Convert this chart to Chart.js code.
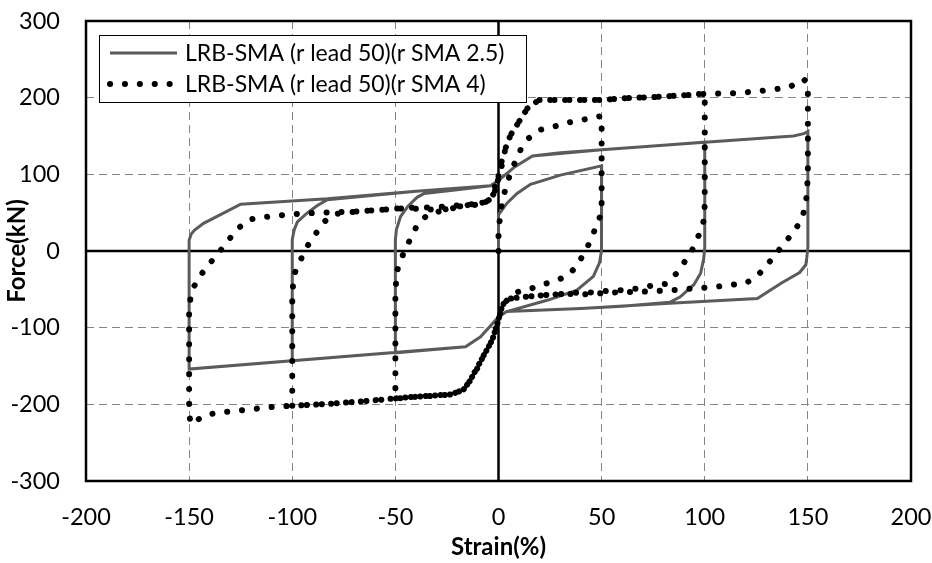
<!DOCTYPE html>
<html>
<head>
<meta charset="utf-8">
<script src="https://cdn.jsdelivr.net/npm/chart.js@4.4.1/dist/chart.umd.min.js"></script>
<style>
  html, body { margin: 0; padding: 0; background: #fff; }
</style>
</head>
<body>
<canvas id="myChart" width="932" height="563"></canvas>
<script>
const seriesNames = ['LRB-SMA (r lead 50)(r SMA 2.5)', 'LRB-SMA (r lead 50)(r SMA 4)'];
const xTicks = [-200, -150, -100, -50, 0, 50, 100, 150, 200];
const yTicks = [-300, -200, -100, 0, 100, 200, 300];

// r SMA 2.5 (solid grey)
const sma25Strain = [
  0, 0, 4, 9, 15.5, 30, 50,
  50, 50, 49.8, 49, 46, 38, 24, 4, 0, -8.7, -16, -50,
  -50, -50, -49.5, -47.5, -44, -39.5, -36, -20, -4, 0, 8, 16.5, 30, 50, 75, 100,
  100, 100, 99.5, 98, 94.7, 88, 83, 60, 40, 4, 0, -8.7, -16, -100,
  -100, -100, -99, -97.5, -93, -88, -83, -40, -4, 0, 8, 16.5, 50, 100, 143, 148, 150,
  150, 150, 149.5, 149, 146, 137, 125.5, 83, 40, 4, 0, -8.7, -16, -150,
  -150, -150, -149, -147.5, -143, -125, -83, -40, -4
];
const sma25Force = [
  0, 47, 62, 75, 87, 99, 111,
  60, 15, 0, -15, -33, -51, -64, -79, -86, -112, -125, -133,
  -60, 15, 28, 45, 58, 70, 75, 80, 85, 92, 110, 124, 128, 132, 137, 142,
  60, 5, -10, -29, -44, -60, -67, -72, -75, -79, -86, -112, -125, -143,
  -60, 15, 28, 38, 49, 59, 67, 78, 85, 92, 110, 124, 132, 142, 150, 153, 156,
  80, 5, -8, -18, -28, -42, -62, -68, -75, -79, -86, -112, -125, -154,
  -60, 14, 22, 27, 36, 61, 68, 78, 85
];

// r SMA 4 (black round dots)
const sma4Strain = [
  0, 0, 0.5, 1.5, 3, 5, 7.4, 10.7, 14.6, 20, 26.7, 33, 40.6, 47.5, 50,
  50, 47.3, 44.6, 41, 38, 33, 26.5, 19.4, 15, 8.2, 3.9, 1.3, 0, -1.5, -3, -5.8, -8.7, -11, -14, -17, -23, -31.5, -39.4, -46.7, -50,
  -50, -49, -48, -45, -42, -39, -34, -26.7, -20, -12.8, -8, -5, -3, -1.5, -0.5, 1.3, 3.4, 5.8, 10, 14, 19.6, 35, 50, 63, 77, 91.5, 100,
  100, 99.3, 97, 94, 90, 86, 81, 73.7, 67, 60, 52.7, 45.4, 38, 31, 20, 12, 6, 2.6, 1, 0, -3, -8.7, -14, -17, -23, -40, -53, -66, -80, -94, -100,
  -100, -99.5, -99, -96, -93, -89, -85, -80, -72.6, -58, -44, -30, -17, -8, -4.5, -3, -1.5, -0.5, 1, 3.4, 5.8, 10, 14, 19.6, 50, 63, 77, 91.5, 100, 113, 120, 127, 134, 141, 146, 148, 150,
  150, 149.5, 149, 147.5, 144, 139.5, 135, 130.6, 126, 120, 113, 106, 99, 85, 70.5, 56.5, 42, 31, 20, 12, 6, 2.6, 1, 0, -3, -8.7, -14, -17, -23, -40, -53, -66, -80, -94, -100.5, -108, -115, -122, -129, -136.5, -143, -149,
  -150, -150, -149.3, -147.7, -144, -139.6, -135, -130.7, -126, -121, -114, -107.5, -100.5, -86.8, -72, -58.8, -44, -34.5, -26.5, -19.3, -12, -8, -4.7, -3, -1.5, -0.6
];
const sma4Force = [
  0, 19, 38, 60, 77, 95, 112, 132, 147, 158, 162, 167, 171, 175, 176,
  50, 32, 13, -5, -20, -33, -40, -45, -50, -54, -65, -77, -90, -103, -116, -129, -144, -157, -170, -181, -187, -189, -190, -192, -192,
  -50, -25, -15, 3, 20, 36, 48, 53, 57, 61, 63, 64, 71, 80, 90, 108, 134, 151, 169, 186, 197, 197, 197, 199.5, 201, 203.5, 205.5,
  60, 37, 20, 2, -15, -30, -43, -45.6, -49, -51, -52, -54, -54.5, -56, -58, -60, -62, -68, -78, -90, -116, -144, -170, -181, -187, -190, -193, -196, -199, -201, -202,
  -60, -40, -30, -12, 5, 21, 37, 48, 50.5, 53.5, 56.5, 57, 60, 62, 66, 71, 80, 90, 112, 134, 151, 169, 186, 197, 197, 199.5, 201, 203.5, 205, 205.6, 207, 208.7, 211, 213.5, 222, 224, 218,
  100, 75, 63.5, 45, 28, 13, -2, -17, -31, -42, -44, -46.5, -48, -51, -53, -54, -56.5, -56, -58, -60, -62, -68, -78, -90, -116, -144, -170, -181, -187, -190, -193, -196, -199, -201, -202, -203, -205, -207, -209, -211, -215, -226,
  -214, -79, -60, -46.5, -30, -15, 0, 15, 30, 41, 44, 46, 48, 50, 51, 53.5, 56, 54, 54, 58, 60, 61, 66.5, 75, 86, 97
];

const FONT = 'Lato, "Open Sans", sans-serif';
const ctx = document.getElementById('myChart');

function pairs(xs, ys) {
  return xs.map((x, i) => ({ x: x, y: ys[i] }));
}

// fixed axis boxes, no extra label overflow padding
function fixBox(size, horizontal) {
  return s => {
    if (horizontal) s.height = size; else s.width = size;
    s.paddingTop = 0; s.paddingBottom = 0; s.paddingLeft = 0; s.paddingRight = 0;
  };
}

// black zero axes, plot frame and boxed legend like the Excel original
const decor = {
  id: 'decor',
  beforeDatasetsDraw(chart) {
    const { ctx, chartArea: a, scales } = chart;
    const x0 = scales.x.getPixelForValue(0);
    const y0 = scales.y.getPixelForValue(0);
    ctx.save();
    ctx.strokeStyle = '#000';
    ctx.lineWidth = 2.5;
    ctx.beginPath();
    ctx.moveTo(x0, a.top); ctx.lineTo(x0, a.bottom);
    ctx.moveTo(a.left, y0); ctx.lineTo(a.right, y0);
    ctx.stroke();
    ctx.restore();
  },
  afterDatasetsDraw(chart) {
    const { ctx, chartArea: a } = chart;
    ctx.save();
    ctx.strokeStyle = '#000';
    ctx.lineWidth = 2.5;
    ctx.strokeRect(a.left, a.top, a.right - a.left, a.bottom - a.top);

    const lx = a.left + 13, ly = a.top + 14, lw = 427, lh = 67;
    ctx.fillStyle = '#fff';
    ctx.fillRect(lx, ly, lw, lh);
    ctx.lineWidth = 1;
    ctx.strokeRect(lx + 0.5, ly + 0.5, lw, lh);
    chart.data.datasets.forEach((ds, i) => {
      const yy = ly + 18 + i * 31;
      ctx.beginPath();
      ctx.strokeStyle = ds.borderColor;
      ctx.lineWidth = ds.borderWidth;
      ctx.setLineDash(ds.borderDash || []);
      ctx.lineCap = ds.borderCapStyle || 'butt';
      ctx.moveTo(lx + 11, yy);
      ctx.lineTo(lx + 78, yy);
      ctx.stroke();
      ctx.setLineDash([]);
      ctx.fillStyle = '#000';
      ctx.font = '23px ' + FONT;
      ctx.textBaseline = 'middle';
      ctx.textAlign = 'left';
      ctx.fillText(ds.label, lx + 86, yy + 1);
    });
    ctx.restore();
  }
};

const gridColor = c => (c.tick && c.tick.value === 0) ? 'rgba(0,0,0,0)' : '#858585';

new Chart(ctx, {
  type: 'scatter',
  data: {
    datasets: [
      {
        label: seriesNames[0],
        data: pairs(sma25Strain, sma25Force),
        showLine: true,
        borderColor: '#5b5b5b',
        borderWidth: 3,
        pointRadius: 0,
        order: 1
      },
      {
        label: seriesNames[1],
        data: pairs(sma4Strain, sma4Force),
        showLine: true,
        borderColor: '#000',
        borderWidth: 6,
        borderDash: [0.1, 14.8],
        borderCapStyle: 'round',
        pointRadius: 0,
        order: 0
      }
    ]
  },
  options: {
    responsive: false,
    animation: false,
    layout: { padding: { top: 21, right: 21, left: 0, bottom: 0 } },
    plugins: { legend: { display: false }, tooltip: { enabled: false } },
    scales: {
      x: {
        type: 'linear',
        min: -200,
        max: 200,
        afterBuildTicks: s => { s.ticks = xTicks.map(v => ({ value: v })); },
        afterFit: fixBox(82, true),
        grid: { color: gridColor, lineWidth: 1, drawTicks: false },
        border: { display: false, dash: [8, 5] },
        ticks: { padding: 22, color: '#000', maxRotation: 0, autoSkip: false, font: { family: FONT, size: 23.5 } },
        title: { display: true, text: 'Strain(%)', color: '#000', font: { family: FONT, size: 24, weight: 'bold' }, padding: { top: 0, bottom: 1 } }
      },
      y: {
        type: 'linear',
        min: -300,
        max: 300,
        afterBuildTicks: s => { s.ticks = yTicks.map(v => ({ value: v })); },
        afterFit: fixBox(86, false),
        grid: { color: gridColor, lineWidth: 1, drawTicks: false },
        border: { display: false, dash: [8, 5] },
        ticks: { padding: 26, color: '#000', autoSkip: false, font: { family: FONT, size: 23.5 } },
        title: { display: true, text: 'Force(kN)', color: '#000', font: { family: FONT, size: 24, weight: 'bold' }, padding: { top: 3, bottom: 0 } }
      }
    }
  },
  plugins: [decor]
});
</script>
</body>
</html>
